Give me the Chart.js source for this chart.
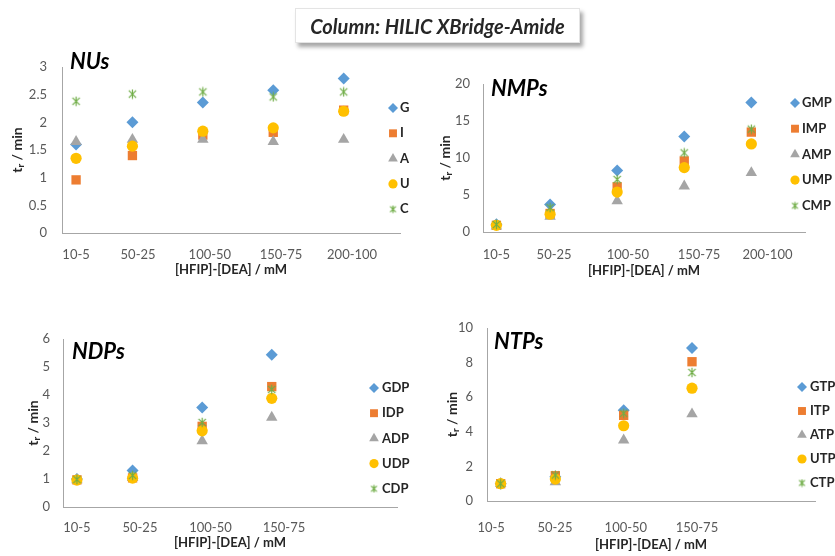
<!DOCTYPE html>
<html>
<head>
<meta charset="utf-8">
<script src="https://cdn.jsdelivr.net/npm/chart.js@4.4.1/dist/chart.umd.min.js"></script>
<style>
  html, body { margin: 0; padding: 0; background: #fff; }
  #wrap { position: relative; width: 835px; height: 556px; overflow: hidden; }
  #wrap canvas { position: absolute; left: 0; top: 0; }
  #banner {
    position: absolute; left: 295px; top: 8px; width: 285px; height: 35px;
    box-sizing: border-box; background: #fff; border: 1px solid #e4e4e4;
    box-shadow: 3px 4px 4px rgba(0,0,0,0.35);
    font: italic bold 20px Lato, "Open Sans", sans-serif; color: #262626;
    display: flex; align-items: center; justify-content: center; z-index: 5;
  }
</style>
</head>
<body>
<div id="wrap">
  <canvas id="nu" width="835" height="556"></canvas>
  <canvas id="nmp" width="835" height="556"></canvas>
  <canvas id="ndp" width="835" height="556"></canvas>
  <canvas id="ntp" width="835" height="556"></canvas>
  <div id="banner">Column: HILIC XBridge-Amide</div>
</div>
<script>
// HFIP concentration (mM) for each mobile phase, and the [HFIP]-[DEA] labels
const hfip = [10, 50, 100, 150, 200];
const hfipDeaLabels = ['10-5', '50-25', '100-50', '150-75', '200-100'];

// Retention times (min) - nucleosides
const nuNames = ['G', 'I', 'A', 'U', 'C'];
const nuG = [1.60, 2.00, 2.36, 2.58, 2.79];
const nuI = [0.96, 1.40, 1.77, 1.82, 2.22];
const nuA = [1.65, 1.69, 1.69, 1.65, 1.69];
const nuU = [1.35, 1.57, 1.84, 1.90, 2.20];
const nuC = [2.38, 2.51, 2.55, 2.46, 2.55];

// Nucleoside monophosphates
const nmpNames = ['GMP', 'IMP', 'AMP', 'UMP', 'CMP'];
const nmpG = [1.05, 3.7, 8.3, 12.9, 17.5];
const nmpI = [0.9, 2.5, 6.1, 9.6, 13.5];
const nmpA = [0.8, 2.1, 4.2, 6.2, 8.0];
const nmpU = [0.9, 2.4, 5.4, 8.7, 11.9];
const nmpC = [1.0, 3.3, 7.1, 10.7, 13.9];

// Nucleoside diphosphates
const ndpNames = ['GDP', 'IDP', 'ADP', 'UDP', 'CDP'];
const ndpG = [1.00, 1.30, 3.55, 5.44];
const ndpI = [0.97, 1.04, 2.88, 4.30];
const ndpA = [0.97, 1.05, 2.36, 3.20];
const ndpU = [0.96, 1.03, 2.72, 3.88];
const ndpC = [0.98, 1.13, 3.02, 4.20];

// Nucleoside triphosphates
const ntpNames = ['GTP', 'ITP', 'ATP', 'UTP', 'CTP'];
const ntpG = [1.00, 1.40, 5.25, 8.85];
const ntpI = [1.00, 1.46, 4.95, 8.05];
const ntpA = [1.00, 1.10, 3.52, 5.03];
const ntpU = [1.00, 1.27, 4.35, 6.52];
const ntpC = [1.00, 1.50, 5.07, 7.43];

const FONT = 'Lato, "Open Sans", "DejaVu Sans", sans-serif';
const colors = ['#5B9BD5', '#ED7D31', '#A5A5A5', '#FFC000', '#70AD47'];
const TEXT_DARK = '#262626';

// Asterisk marker: an X crossed by a vertical stroke
function asterisk(size, color) {
  const c = document.createElement('canvas');
  c.width = size; c.height = size;
  const g = c.getContext('2d');
  g.strokeStyle = color; g.lineWidth = 1.2;
  const m = size / 2, r = size / 2 - 0.8, d = r * 0.78;
  g.beginPath();
  g.moveTo(m - d, m - d); g.lineTo(m + d, m + d);
  g.moveTo(m + d, m - d); g.lineTo(m - d, m + d);
  g.moveTo(m, m - r); g.lineTo(m, m + r);
  g.stroke();
  return c;
}
const styles = ['rectRot', 'rect', 'triangle', 'circle', asterisk(11, colors[4])];
const radii = [6, 6.6, 6.6, 5.6, 6];
const legendStyles = ['rectRot', 'rect', 'triangle', 'circle', asterisk(9, colors[4])];
const legendRadii = [5, 5.6, 5.6, 4.6, 5];

// Panel title, y-axis title (with subscript r) and legend
const panelDecor = {
  id: 'panelDecor',
  afterDraw(chart, args, o) {
    const ctx = chart.ctx;
    const area = chart.chartArea;
    ctx.save();
    ctx.textBaseline = 'middle';
    ctx.textAlign = 'left';

    // panel name
    ctx.fillStyle = '#000';
    ctx.font = 'italic bold 22px ' + FONT;
    ctx.fillText(o.name, o.nameX, o.nameY);

    // y-axis title: t_r / min, rotated
    ctx.save();
    ctx.translate(o.yTitleX, (area.top + area.bottom) / 2);
    ctx.rotate(-Math.PI / 2);
    ctx.fillStyle = TEXT_DARK;
    const big = 'bold 14px ' + FONT, small = 'bold 10px ' + FONT;
    ctx.font = big;
    const wT = ctx.measureText('t').width, wRest = ctx.measureText(' / min').width;
    ctx.font = small;
    const wR = ctx.measureText('r').width;
    let x0 = -(wT + wR + wRest) / 2;
    ctx.font = big; ctx.fillText('t', x0, 0);
    ctx.font = small; ctx.fillText('r', x0 + wT, 4);
    ctx.font = big; ctx.fillText(' / min', x0 + wT + wR, 0);
    ctx.restore();

    // legend
    ctx.font = 'bold 13px ' + FONT;
    chart.data.datasets.forEach((ds, i) => {
      const y = o.legY + i * o.legGap;
      ctx.fillStyle = ds.backgroundColor;
      ctx.strokeStyle = ds.borderColor;
      Chart.helpers.drawPoint(ctx, {
        pointStyle: legendStyles[i], radius: legendRadii[i], rotation: 0, borderWidth: 0
      }, o.legX, y);
      ctx.fillStyle = TEXT_DARK;
      ctx.fillText(ds.label, o.legX + o.textGap, y);
    });
    ctx.restore();
  }
};

function panel(id, names, series, p) {
  const datasets = series.map((vals, i) => ({
    label: names[i],
    data: vals.map((v, k) => ({ x: hfip[k], y: v })),
    pointStyle: styles[i],
    pointRadius: radii[i],
    pointHoverRadius: radii[i],
    backgroundColor: colors[i],
    borderColor: colors[i],
    borderWidth: 0,
    showLine: false,
    order: series.length - i
  }));
  const labels = hfipDeaLabels.slice(0, p.tickAt.length);
  new Chart(document.getElementById(id), {
    type: 'scatter',
    data: { datasets },
    plugins: [panelDecor],
    options: {
      responsive: false,
      animation: false,
      events: [],
      layout: { padding: { left: p.L - p.yW, top: p.T, right: 835 - p.R, bottom: 556 - p.B - p.xH } },
      plugins: {
        legend: { display: false },
        tooltip: { enabled: false },
        panelDecor: p.decor
      },
      scales: {
        x: {
          type: 'linear', min: 0, max: 240,
          afterBuildTicks: s => { s.ticks = p.tickAt.map(v => ({ value: v })); },
          afterFit: s => { s.height = p.xH; },
          grid: { display: false, drawTicks: false },
          border: { color: '#A6A6A6', width: 1 },
          ticks: {
            autoSkip: false, maxRotation: 0, padding: p.xPad,
            color: '#595959', font: { family: FONT, size: 13 },
            callback: (v, i) => labels[i]
          },
          title: {
            display: true, text: '[HFIP]-[DEA] / mM', color: TEXT_DARK,
            font: { family: FONT, size: 13, weight: 'bold' }, padding: 0
          }
        },
        y: {
          min: 0, max: p.ymax,
          afterFit: s => { s.width = p.yW; },
          grid: { display: false, drawTicks: false },
          border: { color: '#A6A6A6', width: 1 },
          ticks: {
            stepSize: p.step, padding: p.yPad,
            color: '#595959', font: { family: FONT, size: 13 },
            callback: v => String(Math.round(v * 100) / 100)
          },
          title: { display: false }
        }
      }
    }
  });
}

panel('nu', nuNames, [nuG, nuI, nuA, nuU, nuC], {
  L: 62, R: 400, T: 67, B: 233, yW: 50, xH: 44.8, xPad: 14, yPad: 15,
  ymax: 3, step: 0.5, tickAt: [10, 54, 105, 155.5, 206],
  decor: { name: 'NUs', nameX: 70, nameY: 62, yTitleX: 17, legX: 393, legY: 108, legGap: 25.3, textGap: 7 }
});
panel('nmp', nmpNames, [nmpG, nmpI, nmpA, nmpU, nmpC], {
  L: 483, R: 805, T: 84, B: 232, yW: 46, xH: 46.8, xPad: 15, yPad: 13,
  ymax: 20, step: 5, tickAt: [10, 53, 108, 161, 212],
  decor: { name: 'NMPs', nameX: 491, nameY: 89, yTitleX: 445, legX: 795, legY: 103, legGap: 25.7, textGap: 7 }
});
panel('ndp', ndpNames, [ndpG, ndpI, ndpA, ndpU, ndpC], {
  L: 63, R: 397, T: 339, B: 507, yW: 38, xH: 43.8, xPad: 13, yPad: 13,
  ymax: 6, step: 1, tickAt: [10, 55.3, 106, 158.8],
  decor: { name: 'NDPs', nameX: 72, nameY: 352, yTitleX: 33, legX: 374, legY: 388, legGap: 25.2, textGap: 8 }
});
panel('ntp', ntpNames, [ntpG, ntpI, ntpA, ntpU, ntpC], {
  L: 487, R: 815, T: 328, B: 501, yW: 43, xH: 51.8, xPad: 19, yPad: 14,
  ymax: 10, step: 2, tickAt: [3, 49.7, 101.6, 153.6],
  decor: { name: 'NTPs', nameX: 494, nameY: 342, yTitleX: 452, legX: 802, legY: 387, legGap: 24, textGap: 8 }
});
</script>
</body>
</html>
